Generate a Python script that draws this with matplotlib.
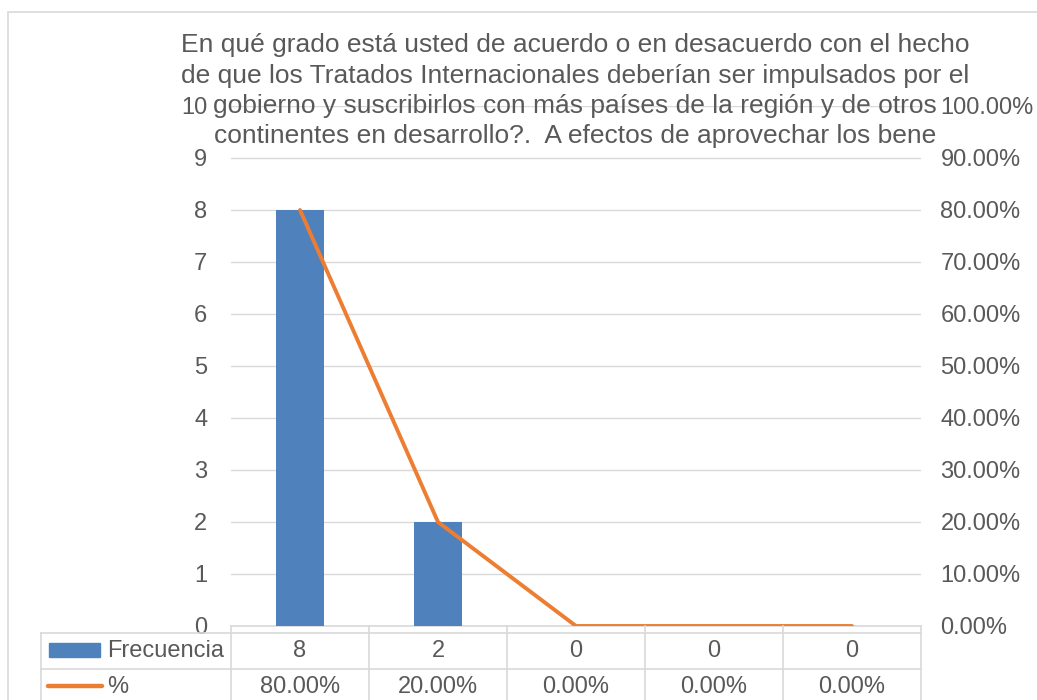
import matplotlib
matplotlib.use("Agg")
import matplotlib.pyplot as plt
from matplotlib.patches import Rectangle
from matplotlib.lines import Line2D
from matplotlib.ticker import FuncFormatter

categorias = ["1", "2", "3", "4", "5"]
frecuencia = [8, 2, 0, 0, 0]
porcentaje = [0.80, 0.20, 0.0, 0.0, 0.0]
titulo = ["En qué grado está usted de acuerdo o en desacuerdo con el hecho",
          "de que los Tratados Internacionales deberían ser impulsados por el",
          "gobierno y suscribirlos con más países de la región y de otros",
          "continentes en desarrollo?.  A efectos de aprovechar los bene"]

AZUL = "#4F81BD"
NARANJA = "#ED7D31"
GRIS = "#595959"
REJILLA = "#D9D9D9"

plt.rcParams["font.family"] = ["Liberation Sans", "DejaVu Sans"]

W, H = 1037, 700
fig = plt.figure(figsize=(W / 100, H / 100), dpi=100)

def px(x, y):
    return x / W, 1 - y / H

# borde del area del grafico
fig.patches.append(Rectangle(px(8, 760), 1.2, (760 - 12) / H, transform=fig.transFigure,
                             fill=False, edgecolor=REJILLA, lw=1.2))

izq, der, arriba, abajo = 231, 921, 106, 626
ax = fig.add_axes([izq / W, 1 - abajo / H, (der - izq) / W, (abajo - arriba) / H])
x = list(range(len(categorias)))
ax.bar(x, frecuencia, width=0.35, color=AZUL, zorder=2)
ax.set_xlim(-0.5, len(categorias) - 0.5)
ax.set_ylim(0, 10)
ax.set_yticks(range(0, 11))
ax.grid(axis="y", color=REJILLA, lw=1, zorder=0)
for s in ax.spines.values():
    s.set_visible(False)
ax.axhline(0, color=REJILLA, lw=1.2, zorder=1, clip_on=False)
ax.set_xticks([])
ax.tick_params(axis="y", length=0, labelsize=17, labelcolor=GRIS, pad=17)

ax2 = ax.twinx()
ax2.plot(x, porcentaje, color=NARANJA, lw=2.8, solid_capstyle="round", zorder=3)
ax2.set_ylim(0, 1)
ax2.set_yticks([i / 10 for i in range(11)])
ax2.yaxis.set_major_formatter(FuncFormatter(lambda v, p: f"{v * 100:.2f}%"))
for s in ax2.spines.values():
    s.set_visible(False)
ax2.tick_params(axis="y", length=0, labelsize=17, labelcolor=GRIS, pad=14)

# titulo
for i, linea in enumerate(titulo):
    fig.text(575 / W, 1 - (45 + i * 30.5) / H, linea, ha="center", va="center",
             fontsize=19, color=GRIS)

# tabla de datos bajo el eje
def hline(x0, x1, y):
    fig.add_artist(Line2D([x0 / W, x1 / W], [1 - y / H, 1 - y / H], color=REJILLA, lw=1.2))

def vline(xp, y0, y1):
    fig.add_artist(Line2D([xp / W, xp / W], [1 - y0 / H, 1 - y1 / H], color=REJILLA, lw=1.2))

ancho = (der - izq) / len(categorias)
hline(41, der, 633)
hline(41, der, 669)
vline(41, 633, 710)
for i in range(len(categorias) + 1):
    vline(izq + i * ancho, abajo, 710)

fig.patches.append(Rectangle(px(49, 657), 51 / W, 14 / H, transform=fig.transFigure,
                             color=AZUL))
fig.add_artist(Line2D([48 / W, 102 / W], [1 - 686 / H] * 2, color=NARANJA, lw=3.2,
                      solid_capstyle="round"))
fig.text(107 / W, 1 - 651 / H, "Frecuencia", ha="left", va="center", fontsize=17, color=GRIS)
fig.text(107 / W, 1 - 687 / H, "%", ha="left", va="center", fontsize=17, color=GRIS)

for i in x:
    cx = (izq + (i + 0.5) * ancho) / W
    fig.text(cx, 1 - 651 / H, f"{frecuencia[i]}", ha="center", va="center",
             fontsize=17, color=GRIS)
    fig.text(cx, 1 - 687 / H, f"{porcentaje[i] * 100:.2f}%", ha="center", va="center",
             fontsize=17, color=GRIS)

fig.savefig("out.png", dpi=100)
